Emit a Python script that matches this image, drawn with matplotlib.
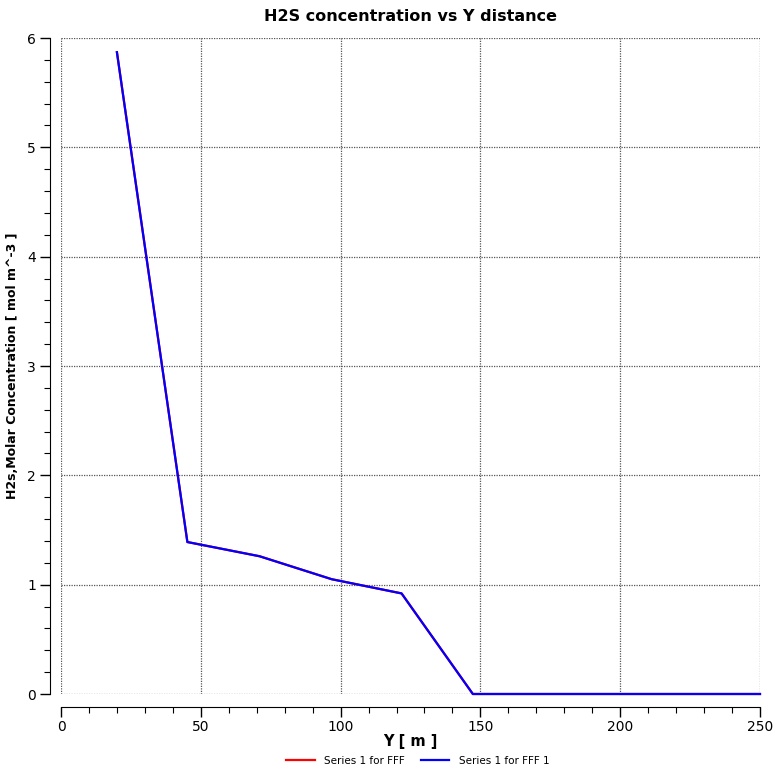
import numpy as np
import matplotlib
matplotlib.use('Agg')
import matplotlib.pyplot as plt
from matplotlib.ticker import MultipleLocator

# ── data ─────────────────────────────────────────────────────────────────────
y_dist   = [20.0, 45.2, 71.0, 96.8, 121.8, 147.3, 250.0]
conc     = [5.87, 1.39, 1.26, 1.05, 0.92, 0.0, 0.0]
series   = ['Series 1 for FFF', 'Series 1 for FFF 1']
colors   = ['#ff0000', '#0000ff']

plt.rcParams['font.family'] = ['DejaVu Sans']

fig = plt.figure(figsize=(7.74, 7.72), dpi=100)
ax = fig.add_axes([61 / 774, 1 - 694 / 772, 699 / 774, 656 / 772])

# red series sits directly under the blue one
for name, c in zip(series, colors):
    ax.plot(y_dist, conc, color=c, lw=1.6, label=name, clip_on=False, zorder=3)

ax.set_xlim(0, 250)
ax.set_ylim(0, 6)
ax.xaxis.set_major_locator(MultipleLocator(50))
ax.xaxis.set_minor_locator(MultipleLocator(10))
ax.yaxis.set_major_locator(MultipleLocator(1))
ax.yaxis.set_minor_locator(MultipleLocator(0.2))

ax.grid(True, which='major', color='#555555', linestyle=(0, (1, 1)), lw=0.9)
for gl in ax.get_xgridlines() + ax.get_ygridlines():
    gl.set_clip_on(False)

for s in ['top', 'right']:
    ax.spines[s].set_visible(False)
ax.spines['left'].set_position(('outward', 8))
ax.spines['bottom'].set_position(('outward', 9))
ax.tick_params(which='major', length=7, width=1.0, labelsize=10, direction='out', pad=3)
ax.tick_params(which='minor', length=4, width=0.8, direction='out')

ax.set_title('H2S concentration vs Y distance', fontsize=11.5, fontweight='bold', pad=12)
ax.set_xlabel('Y [ m ]', fontsize=10.5, fontweight='bold', labelpad=0)
ax.set_ylabel('H2s,Molar Concentration [ mol m^-3 ]', fontsize=9, fontweight='bold', labelpad=6)

fig.legend(loc='lower center', bbox_to_anchor=(0.54, -0.004), ncol=2, frameon=False,
           fontsize=7.5, handlelength=2.7, handletextpad=0.9, columnspacing=1.6)

fig.savefig('out.png', dpi=100)
